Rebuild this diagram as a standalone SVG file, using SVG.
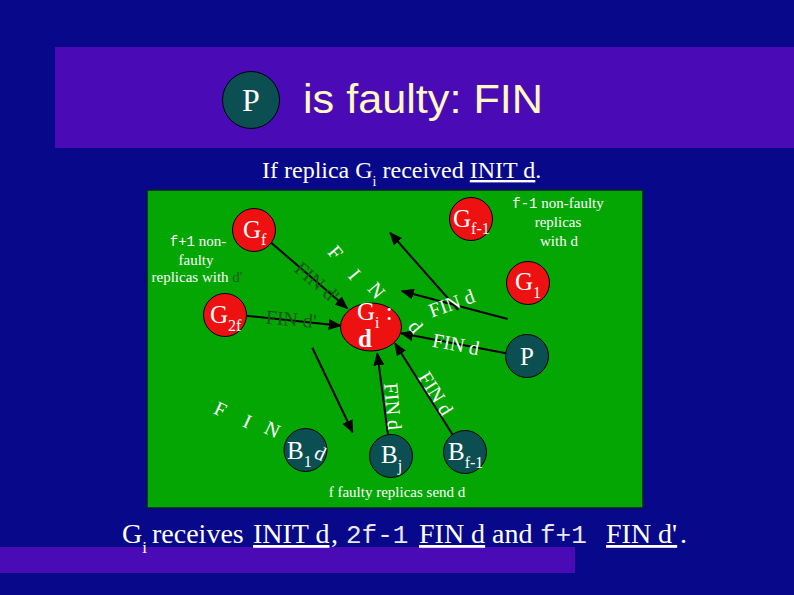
<svg xmlns="http://www.w3.org/2000/svg" width="794" height="595" viewBox="0 0 794 595">
<style>
.serif{font-family:"Liberation Serif","Times New Roman",serif;}
.mono{font-family:"Liberation Mono","Courier New",monospace;}
.w{fill:#ffffff;}
.dg{fill:#1a561a;}
.red{fill:#ee1111;stroke:#000;stroke-width:1;}
.teal{fill:#0b4f52;stroke:#000;stroke-width:1;}
.edge{stroke:#000;stroke-width:2;fill:none;marker-end:url(#ah);}
.lbl{font-family:"Liberation Serif","Times New Roman",serif;font-size:20px;}
.nl{font-family:"Liberation Serif","Times New Roman",serif;font-size:25px;fill:#fff;}
.sub{font-size:16px;}
.note{font-family:"Liberation Serif","Times New Roman",serif;font-size:15px;fill:#fff;}
</style>
<defs>
<marker id="ah" markerUnits="userSpaceOnUse" markerWidth="13" markerHeight="11" refX="12" refY="5.5" orient="auto">
<path d="M0,0 L13,5.5 L0,11 z" fill="#000"/>
</marker>
</defs>
<rect x="0" y="0" width="794" height="595" fill="#08088a"/>
<rect x="55" y="47" width="739" height="101" fill="#4a0bb7"/>
<rect x="0" y="547" width="575" height="26" fill="#4a0bb7"/>
<g id="title">
<circle cx="251" cy="100" r="28.5" class="teal"/>
<text x="251" y="111" text-anchor="middle" class="serif w" font-size="32">P</text>
<text x="303" y="113" font-family="Liberation Sans, Arial, sans-serif" font-size="40" fill="#fff8c0" textLength="240" lengthAdjust="spacingAndGlyphs">is faulty: FIN</text>
</g>
<g id="subtitle" class="serif w" font-size="24">
<text x="262" y="178">If replica G<tspan font-size="14" dy="8">i</tspan><tspan dy="-8"> received </tspan><tspan text-decoration="underline">INIT d</tspan>.</text>
</g>
<rect x="147" y="190" width="496" height="318" fill="#04a604" stroke="#0a1a30" stroke-width="1.5"/>
<g id="notes">
<text x="198" y="246" text-anchor="middle" class="note"><tspan class="mono" font-size="14">f+1</tspan> non-</text>
<text x="196" y="265" text-anchor="middle" class="note">faulty</text>
<text x="197" y="282" text-anchor="middle" class="note">replicas with <tspan fill="#1f5f1f">d'</tspan></text>
<text x="558" y="208" text-anchor="middle" class="note"><tspan class="mono" font-size="14">f-1</tspan> non-faulty</text>
<text x="558" y="227" text-anchor="middle" class="note">replicas</text>
<text x="559" y="246" text-anchor="middle" class="note">with d</text>
<text x="397" y="497" text-anchor="middle" class="note" font-size="14">f faulty replicas send d</text>
</g>
<g id="connectors">
<line x1="270" y1="241.7" x2="347.3" y2="308.3" class="edge"/>
<line x1="246" y1="315.7" x2="340.7" y2="325.7" class="edge"/>
<line x1="507.7" y1="319" x2="401.7" y2="291" class="edge"/>
<line x1="458.3" y1="310" x2="390" y2="232.7" class="edge"/>
<line x1="506" y1="353.3" x2="401" y2="333.3" class="edge"/>
<line x1="312.3" y1="347.7" x2="352.7" y2="432.3" class="edge"/>
<line x1="388.3" y1="437.3" x2="377.3" y2="353.3" class="edge"/>
<line x1="453.3" y1="435.7" x2="395" y2="343.3" class="edge"/>
</g>
<g id="labels">
<text transform="translate(317,282) rotate(40.6)" y="7" text-anchor="middle" class="lbl dg">FIN d'</text>
<text transform="translate(291,320) rotate(5)" y="6" text-anchor="middle" class="lbl dg">FIN d'</text>
<text transform="translate(452,304) rotate(-20)" y="6" text-anchor="middle" class="lbl w">FIN d</text>
<text transform="translate(456,344) rotate(10.8)" y="7" text-anchor="middle" class="lbl w">FIN d</text>
<text transform="translate(386,407) rotate(85)" y="0" text-anchor="middle" class="lbl w">FIN d</text>
<text transform="translate(430,397) rotate(58)" y="0" text-anchor="middle" class="lbl w">FIN d</text>
<text transform="translate(335,253) rotate(50)" y="6" text-anchor="middle" class="lbl w">F</text>
<text transform="translate(354,275) rotate(50)" y="6" text-anchor="middle" class="lbl w">I</text>
<text transform="translate(376,291) rotate(50)" y="6" text-anchor="middle" class="lbl w">N</text>
<text transform="translate(415,327) rotate(50)" y="6" text-anchor="middle" class="lbl w">d</text>
<text transform="translate(220,410) rotate(25)" y="6" text-anchor="middle" class="lbl w">F</text>
<text transform="translate(247,422) rotate(25)" y="6" text-anchor="middle" class="lbl w">I</text>
<text transform="translate(272,430) rotate(25)" y="6" text-anchor="middle" class="lbl w">N</text>
</g>
<g id="Gf"><circle cx="254" cy="230" r="21.5" class="red"/><text x="243" y="238" class="nl">G<tspan class="sub" dy="7">f</tspan></text></g>
<g id="G2f"><circle cx="225" cy="315" r="21.5" class="red"/><text x="210" y="323" class="nl">G<tspan class="sub" dy="8">2f</tspan></text></g>
<g id="Gf-1"><circle cx="471" cy="219" r="21.5" class="red"/><text x="453" y="227" class="nl">G<tspan class="sub" dy="7">f-1</tspan></text></g>
<g id="G1"><circle cx="528" cy="283" r="21.5" class="red"/><text x="515" y="290" class="nl">G<tspan class="sub" dy="8">1</tspan></text></g>
<g id="Gi"><ellipse cx="371" cy="327" rx="30.5" ry="24" class="red"/><text x="357" y="320" class="nl">G<tspan class="sub" dy="8">i</tspan><tspan dy="-8"> :</tspan></text><text x="358" y="347" class="nl" font-weight="bold">d</text></g>
<g id="P"><circle cx="527" cy="356" r="21.5" class="teal"/><text x="527" y="365" text-anchor="middle" class="nl">P</text></g>
<g id="B1"><circle cx="305.5" cy="450" r="21.5" class="teal"/><text x="287" y="459" class="nl">B<tspan class="sub" dy="8">1</tspan></text><text transform="translate(320,454) rotate(25)" y="6" text-anchor="middle" class="lbl w">d</text></g>
<g id="Bj"><circle cx="391" cy="456" r="21.5" class="teal"/><text x="381" y="463" class="nl">B<tspan class="sub" dy="8">j</tspan></text></g>
<g id="Bf-1"><circle cx="465" cy="452" r="21.5" class="teal"/><text x="448" y="460" class="nl">B<tspan class="sub" dy="8">f-1</tspan></text></g>
<g id="bottom" class="serif w" font-size="28">
<text x="122" y="543">G<tspan font-size="17" dy="10">i</tspan></text>
<text x="152" y="543">receives</text>
<text x="253" y="543" text-decoration="underline">INIT d</text>
<text x="331" y="543">,</text>
<text x="346" y="543" class="mono" font-size="26" fill="#e8e8f4">2f-1</text>
<text x="419" y="543" text-decoration="underline">FIN d</text>
<text x="492" y="543">and</text>
<text x="540" y="543" class="mono" font-size="26" fill="#e8e8f4">f+1</text>
<text x="606" y="543" text-decoration="underline">FIN d'</text>
<text x="680" y="543">.</text>
</g>
</svg>
